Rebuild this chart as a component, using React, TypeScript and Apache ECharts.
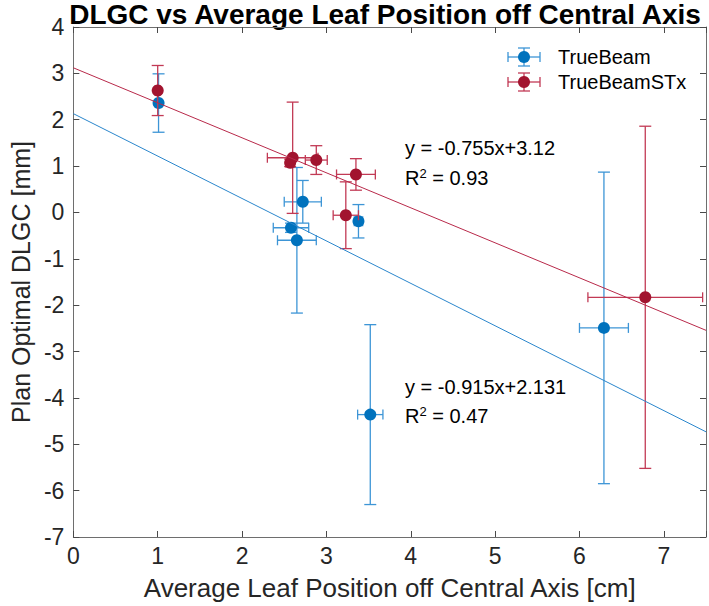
import React, { useEffect, useRef } from "react";
import * as echarts from "echarts";

// ---- Data ----
const tbX = [1.01, 2.72, 2.58, 2.65, 3.38, 3.52, 6.29];
const tbY = [2.36, 0.23, -0.33, -0.6, -0.19, -4.36, -2.49];
const tbXErr = [0.03, 0.22, 0.21, 0.23, 0.05, 0.15, 0.29];
const tbYErr = [0.63, 0.46, 0.1, 1.57, 0.36, 1.94, 3.36];

const stxX = [1.0, 2.6, 2.57, 2.88, 3.35, 3.23, 6.78];
const stxY = [2.63, 1.18, 1.07, 1.13, 0.82, -0.06, -1.83];
const stxXErr = [0.03, 0.3, 0.05, 0.13, 0.23, 0.15, 0.68];
const stxYErr = [0.54, 1.2, 0.08, 0.31, 0.34, 0.72, 3.69];

const fitSlope = [-0.915, -0.755]; // TrueBeam, TrueBeamSTx
const fitIntercept = [2.131, 3.12];
const fitR2 = ["0.47", "0.93"];
const fitXRange = [0, 7.5];

const xTicks = [0, 1, 2, 3, 4, 5, 6, 7];
const yTicks = [-7, -6, -5, -4, -3, -2, -1, 0, 1, 2, 3, 4];
const seriesNames = ["TrueBeam", "TrueBeamSTx"];

const BLUE = "#0072BD";
const BLUE_ERR = "#3d95d6";
const RED = "#A2142F";
const RED_ERR = "#c23a55";
const FONT = "'Liberation Sans', Arial, Helvetica, sans-serif";
const AXIS_COLOR = "#262626";

function errData(xs: number[], ys: number[], xe: number[], ye: number[]) {
  return xs.map((x, i) => [x, ys[i], xe[i], ye[i]]);
}

function errRender(color: string) {
  return (params: any, api: any) => {
    const x = api.value(0);
    const y = api.value(1);
    const dx = api.value(2);
    const dy = api.value(3);
    const top = api.coord([x, y + dy]);
    const bot = api.coord([x, y - dy]);
    const l = api.coord([x - dx, y]);
    const r = api.coord([x + dx, y]);
    const cw = 6;
    const ch = 5;
    const style = { stroke: color, lineWidth: 1.3, fill: "none" };
    const ln = (x1: number, y1: number, x2: number, y2: number) => ({
      type: "line",
      shape: { x1, y1, x2, y2 },
      style,
    });
    return {
      type: "group",
      children: [
        ln(top[0], top[1], bot[0], bot[1]),
        ln(top[0] - cw, top[1], top[0] + cw, top[1]),
        ln(bot[0] - cw, bot[1], bot[0] + cw, bot[1]),
        ln(l[0], l[1], r[0], r[1]),
        ln(l[0], l[1] - ch, l[0], l[1] + ch),
        ln(r[0], r[1] - ch, r[0], r[1] + ch),
      ],
    };
  };
}

function legendIcon(cx: number, cy: number, color: string, errColor: string) {
  const s = { stroke: errColor, lineWidth: 1.3 };
  return [
    { type: "line", shape: { x1: cx - 16, y1: cy, x2: cx + 16, y2: cy }, style: s },
    { type: "line", shape: { x1: cx - 16, y1: cy - 5, x2: cx - 16, y2: cy + 5 }, style: s },
    { type: "line", shape: { x1: cx + 16, y1: cy - 5, x2: cx + 16, y2: cy + 5 }, style: s },
    { type: "line", shape: { x1: cx, y1: cy - 9, x2: cx, y2: cy + 9 }, style: s },
    { type: "line", shape: { x1: cx - 6, y1: cy - 9, x2: cx + 6, y2: cy - 9 }, style: s },
    { type: "line", shape: { x1: cx - 6, y1: cy + 9, x2: cx + 6, y2: cy + 9 }, style: s },
    { type: "circle", shape: { cx, cy, r: 6 }, style: { fill: color } },
  ];
}

export default function App() {
  const ref = useRef<HTMLDivElement>(null);
  useEffect(() => {
    if (!ref.current) return;
    document.body.style.margin = "0";
    const chart = echarts.init(ref.current, undefined, { renderer: "svg" });

    const axisCommon = {
      axisLine: { show: true, onZero: false, lineStyle: { color: "#6e6e6e", width: 1 } },
      axisTick: { show: true, inside: true, length: 6, lineStyle: { color: "#4a4a4a" } },
      splitLine: { show: false },
    };

    const fitLine = (k: number) =>
      fitXRange.map((x) => [x, fitSlope[k] * x + fitIntercept[k]]);

    const annot = (x: number, y: number, text: string, rich?: any) => ({
      type: "text",
      x,
      y,
      style: {
        text,
        fill: "#000",
        font: `20px ${FONT}`,
        textVerticalAlign: "middle",
        ...(rich ? { rich } : {}),
      },
    });
    const supRich = {
      sup: { fontSize: 13, verticalAlign: "top", padding: [0, 0, 10, 0], fontFamily: FONT },
    };

    const option: any = {
      animation: false,
      backgroundColor: "#ffffff",
      grid: { left: 62, right: 2, top: 27, bottom: 68, containLabel: false },
      xAxis: [
        {
          type: "value",
          min: 0,
          max: 7.5,
          interval: 1,
          position: "bottom",
          ...axisCommon,
          axisLabel: {
            color: AXIS_COLOR,
            fontSize: 23,
            fontFamily: FONT,
            margin: 7,
            formatter: (v: number) => (xTicks.includes(v) ? String(v) : ""),
          },
          name: "Average Leaf Position off Central Axis [cm]",
          nameLocation: "middle",
          nameGap: 38,
          nameTextStyle: { color: AXIS_COLOR, fontSize: 26, fontFamily: FONT },
        },
        {
          type: "value",
          min: 0,
          max: 7.5,
          interval: 1,
          position: "top",
          ...axisCommon,
          axisLabel: { show: false },
        },
      ],
      yAxis: [
        {
          type: "value",
          min: -7,
          max: 4,
          interval: 1,
          position: "left",
          ...axisCommon,
          axisLabel: {
            color: AXIS_COLOR,
            fontSize: 23,
            fontFamily: FONT,
            margin: 9,
            formatter: (v: number) => (yTicks.includes(v) ? String(v) : ""),
          },
          name: "Plan Optimal DLGC [mm]",
          nameLocation: "middle",
          nameGap: 34,
          nameTextStyle: { color: AXIS_COLOR, fontSize: 25, fontFamily: FONT },
        },
        {
          type: "value",
          min: -7,
          max: 4,
          interval: 1,
          position: "right",
          ...axisCommon,
          axisLabel: { show: false },
        },
      ],
      series: [
        {
          name: seriesNames[0] + " err",
          type: "custom",
          renderItem: errRender(BLUE_ERR),
          data: errData(tbX, tbY, tbXErr, tbYErr),
          encode: { x: 0, y: 1 },
          z: 2,
        },
        {
          name: seriesNames[0],
          type: "scatter",
          data: tbX.map((x, i) => [x, tbY[i]]),
          symbol: "circle",
          symbolSize: 12,
          itemStyle: { color: BLUE, opacity: 1 },
          z: 3,
        },
        {
          name: seriesNames[1] + " err",
          type: "custom",
          renderItem: errRender(RED_ERR),
          data: errData(stxX, stxY, stxXErr, stxYErr),
          encode: { x: 0, y: 1 },
          z: 4,
        },
        {
          name: seriesNames[1],
          type: "scatter",
          data: stxX.map((x, i) => [x, stxY[i]]),
          symbol: "circle",
          symbolSize: 12,
          itemStyle: { color: RED, opacity: 1 },
          z: 5,
        },
        {
          name: seriesNames[0] + " fit",
          type: "line",
          data: fitLine(0),
          showSymbol: false,
          lineStyle: { color: "#2a86cc", width: 1 },
          z: 6,
        },
        {
          name: seriesNames[1] + " fit",
          type: "line",
          data: fitLine(1),
          showSymbol: false,
          lineStyle: { color: "#b8294a", width: 1 },
          z: 6,
        },
      ],
      graphic: [
        {
          type: "text",
          x: 385,
          y: 14,
          style: {
            text: "DLGC vs Average Leaf Position off Central Axis",
            fill: "#000",
            font: `bold 28px ${FONT}`,
            textAlign: "center",
            textVerticalAlign: "middle",
          },
        },
        ...legendIcon(524, 57, BLUE, BLUE_ERR),
        ...legendIcon(524, 82, RED, RED_ERR),
        {
          type: "text",
          x: 558,
          y: 57,
          style: { text: seriesNames[0], fill: "#000", font: `20px ${FONT}`, textVerticalAlign: "middle" },
        },
        {
          type: "text",
          x: 558,
          y: 82,
          style: { text: seriesNames[1], fill: "#000", font: `20px ${FONT}`, textVerticalAlign: "middle" },
        },
        annot(405, 148, `y = ${fitSlope[1]}x+${fitIntercept[1]}`),
        annot(405, 178, `R{sup|2} = ${fitR2[1]}`, supRich),
        annot(405, 387, `y = ${fitSlope[0]}x+${fitIntercept[0]}`),
        annot(405, 416, `R{sup|2} = ${fitR2[0]}`, supRich),
      ],
    };

    chart.setOption(option);
    return () => chart.dispose();
  }, []);

  return (
    <div
      ref={ref}
      style={{ width: 709, height: 606, position: "absolute", left: 0, top: 0 }}
    />
  );
}
